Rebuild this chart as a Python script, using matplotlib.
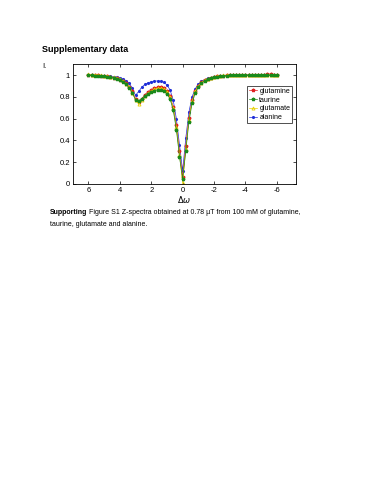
import numpy as np
import matplotlib
matplotlib.use("Agg")
import matplotlib.pyplot as plt

# saturation offsets (ppm), sampled every 0.2 from 6 to -6
offsets = np.round(np.linspace(6, -6, 61), 1)

glutamine = [1.005, 1.000, 1.003, 0.998, 0.995, 0.992, 0.988, 0.984, 0.978, 0.970,
             0.960, 0.945, 0.925, 0.895, 0.850, 0.785, 0.755, 0.785, 0.820, 0.845,
             0.865, 0.880, 0.890, 0.890, 0.880, 0.855, 0.805, 0.710, 0.540, 0.300,
             0.060, 0.350, 0.610, 0.770, 0.855, 0.905, 0.935, 0.955, 0.968, 0.976,
             0.984, 0.990, 0.994, 0.997, 0.999, 1.001, 1.000, 1.002, 0.999, 1.001,
             1.003, 1.000, 0.998, 1.002, 1.001, 1.000, 1.004, 1.008, 1.010, 1.004,
             1.000]
taurine = [1.000, 0.998, 0.996, 0.995, 0.992, 0.990, 0.986, 0.981, 0.975, 0.966,
           0.955, 0.938, 0.915, 0.883, 0.835, 0.775, 0.760, 0.780, 0.808, 0.828,
           0.845, 0.858, 0.865, 0.865, 0.855, 0.830, 0.780, 0.680, 0.500, 0.250,
           0.040, 0.300, 0.570, 0.740, 0.835, 0.890, 0.925, 0.948, 0.962, 0.972,
           0.980, 0.986, 0.991, 0.994, 0.997, 0.998, 0.999, 1.000, 0.998, 1.001,
           1.000, 0.999, 1.000, 1.001, 0.999, 1.000, 1.002, 1.000, 0.999, 1.001,
           1.000]
glutamate = [1.008, 1.004, 1.006, 1.000, 0.998, 0.995, 0.992, 0.986, 0.980, 0.972,
             0.962, 0.945, 0.922, 0.890, 0.840, 0.770, 0.735, 0.770, 0.810, 0.835,
             0.855, 0.870, 0.880, 0.880, 0.870, 0.845, 0.795, 0.695, 0.520, 0.270,
             0.010, 0.320, 0.590, 0.760, 0.850, 0.900, 0.932, 0.953, 0.967, 0.977,
             0.985, 0.990, 0.995, 0.998, 1.000, 1.002, 1.001, 1.003, 1.000, 1.004,
             1.002, 0.999, 1.003, 1.001, 1.005, 1.002, 1.000, 1.004, 1.006, 1.002,
             1.001]
alanine = [1.000, 1.002, 0.998, 0.997, 0.995, 0.993, 0.990, 0.988, 0.984, 0.980,
           0.975, 0.965, 0.950, 0.925, 0.880, 0.815, 0.850, 0.890, 0.915, 0.930,
           0.940, 0.945, 0.947, 0.945, 0.935, 0.910, 0.865, 0.770, 0.600, 0.360,
           0.120, 0.420, 0.660, 0.800, 0.875, 0.915, 0.945, 0.960, 0.970, 0.978,
           0.985, 0.990, 0.993, 0.996, 0.998, 1.000, 0.999, 1.001, 1.000, 0.998,
           1.002, 1.000, 0.999, 1.001, 1.003, 1.000, 0.998, 1.002, 1.000, 1.001,
           0.999]

x_ticks = [6, 4, 2, 0, -2, -4, -6]
y_ticks = [0, 0.2, 0.4, 0.6, 0.8, 1]

plt.rcParams['font.family'] = ['Liberation Sans', 'DejaVu Sans']

fig = plt.figure(figsize=(3.71, 4.80), dpi=100)
ax = fig.add_axes([0.196, 0.617, 0.601, 0.249])

ax.plot(offsets, alanine, '.-', color='#1f2fd8', ms=2.5, lw=0.5)
ax.plot(offsets, glutamine, '*-', color='#e02020', ms=2.5, lw=0.5)
ax.plot(offsets, glutamate, '^-', color='#e8d000', ms=2.2, lw=0.5, mfc='none', mew=0.6)
ax.plot(offsets, taurine, '*-', color='#1a8a1a', ms=2.5, lw=0.5)

h = ax.get_lines()
leg = ax.legend([h[1], h[3], h[2], h[0]], ['glutamine', 'taurine', 'glutamate', 'alanine'],
                loc='upper right', bbox_to_anchor=(0.985, 0.82), fontsize=5,
                frameon=True, fancybox=False, edgecolor='black', handlelength=1.2,
                handletextpad=0.3, borderpad=0.3, labelspacing=0.25, borderaxespad=0)
leg.get_frame().set_linewidth(0.6)

ax.set_xlim(7, -7.2)
ax.set_ylim(0, 1.1)
ax.set_xticks(x_ticks)
ax.set_xticklabels([str(t) for t in x_ticks])
ax.set_yticks(y_ticks)
ax.set_yticklabels(['0', '0.2', '0.4', '0.6', '0.8', '1'])
ax.tick_params(direction='in', top=True, right=True, length=2, width=0.5,
               labelsize=5.5, pad=2)
for s in ax.spines.values():
    s.set_linewidth(0.6)
ax.set_xlabel(r'$\Delta\omega$', fontsize=6, labelpad=0)

fig.text(42 / 371, 1 - 50 / 480, 'Supplementary data', fontsize=6.5, fontweight='bold',
         va='center', ha='left')
fig.text(42 / 371, 1 - 67 / 480, 'I.', fontsize=5.5, va='center', ha='left')

t1 = fig.text(50 / 371, 1 - 213 / 480, 'Supporting', fontsize=5, fontweight='bold',
              va='center', ha='left')
fig.canvas.draw()
bb = t1.get_window_extent()
fig.text(bb.x1 / fig.bbox.width + 0.004, 1 - 213 / 480,
         'Figure S1 Z-spectra obtained at 0.78 \u00b5T from 100 mM of glutamine,',
         fontsize=5, va='center', ha='left')
fig.text(50 / 371, 1 - 224 / 480, 'taurine, glutamate and alanine.', fontsize=5,
         va='center', ha='left')

fig.savefig('out.png', dpi=100)
